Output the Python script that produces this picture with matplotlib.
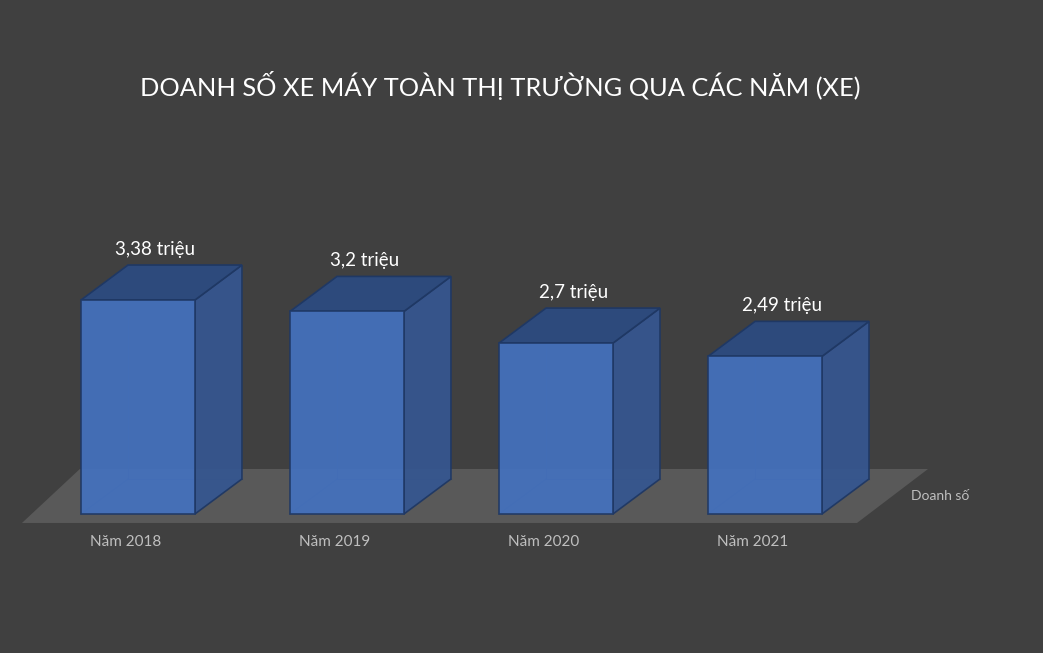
import matplotlib
matplotlib.use('Agg')
import matplotlib.pyplot as plt
from matplotlib.patches import Polygon
import numpy as np

# data
categories = ['Năm 2018', 'Năm 2019', 'Năm 2020', 'Năm 2021']
values = [3.38, 3.2, 2.7, 2.49]
value_labels = ['3,38 triệu', '3,2 triệu', '2,7 triệu', '2,49 triệu']
series_name = 'Doanh số'
title = 'DOANH SỐ XE MÁY TOÀN THỊ TRƯỜNG QUA CÁC NĂM (XE)'

BG = '#404040'
FRONT = '#4471BE'
SIDE = '#36568F'
TOP = '#2D4A7C'
EDGE = '#1F3864'
FLOOR = '#595959'

plt.rcParams['font.family'] = ['Lato', 'DejaVu Sans']

fig = plt.figure(figsize=(10.43, 6.53), dpi=100, facecolor=BG)
ax = fig.add_axes([0, 0, 1, 1])
ax.set_facecolor(BG)
ax.set_xlim(-0.660, 4.330)
ax.set_ylim(-2.196, 8.120)
ax.axis('off')

x = np.arange(len(categories))
width = 0.545
dx, dy = 0.225, 0.553   # depth offset of the fake 3d box

# floor
n = len(categories)
floor = Polygon([(-0.555, -0.142), (n - 1 + 0.44, -0.142),
                 (n - 1 + 0.78, 0.711), (-0.278, 0.711)],
                closed=True, facecolor=FLOOR, edgecolor='none', zorder=1)
ax.add_patch(floor)

for xi, v, lab in zip(x, values, value_labels):
    l, r = xi - width / 2, xi + width / 2
    # hidden back edges, seen through the front face
    ax.plot([l + dx, l + dx], [dy, v + dy], color=EDGE, lw=0.8, alpha=0.5, zorder=2)
    ax.plot([l + dx, r + dx], [dy, dy], color=EDGE, lw=0.8, alpha=0.5, zorder=2)
    ax.plot([l, l + dx], [0, dy], color=EDGE, lw=0.8, alpha=0.5, zorder=2)
    side = Polygon([(r, 0), (r + dx, dy), (r + dx, v + dy), (r, v)],
                   closed=True, facecolor=SIDE, edgecolor=EDGE, lw=1.2,
                   alpha=0.95, zorder=3)
    top = Polygon([(l, v), (r, v), (r + dx, v + dy), (l + dx, v + dy)],
                  closed=True, facecolor=TOP, edgecolor=EDGE, lw=1.2, zorder=3)
    ax.add_patch(side)
    ax.add_patch(top)
    ax.annotate(lab, (xi + dx / 2 - 0.03, v + dy), xytext=(0, 5),
                textcoords='offset points', ha='center', va='bottom',
                color='white', fontsize=13.5)

ax.bar(x, values, width, color=FRONT, edgecolor=EDGE, lw=1.2, alpha=0.93, zorder=4)

for xi, c in zip(x, categories):
    ax.text(xi - 0.057, -0.44, c, ha='center', va='center', color='#BFBFBF', fontsize=11)

ax.text(n - 1 + 0.84, 0.284, series_name, ha='center', va='center',
        color='#BFBFBF', fontsize=10)

fig.text(0.48, 1 - 86 / 653, title, ha='center', va='center',
         color='white', fontsize=18.3)

fig.savefig('out.png', dpi=100, facecolor=BG)
